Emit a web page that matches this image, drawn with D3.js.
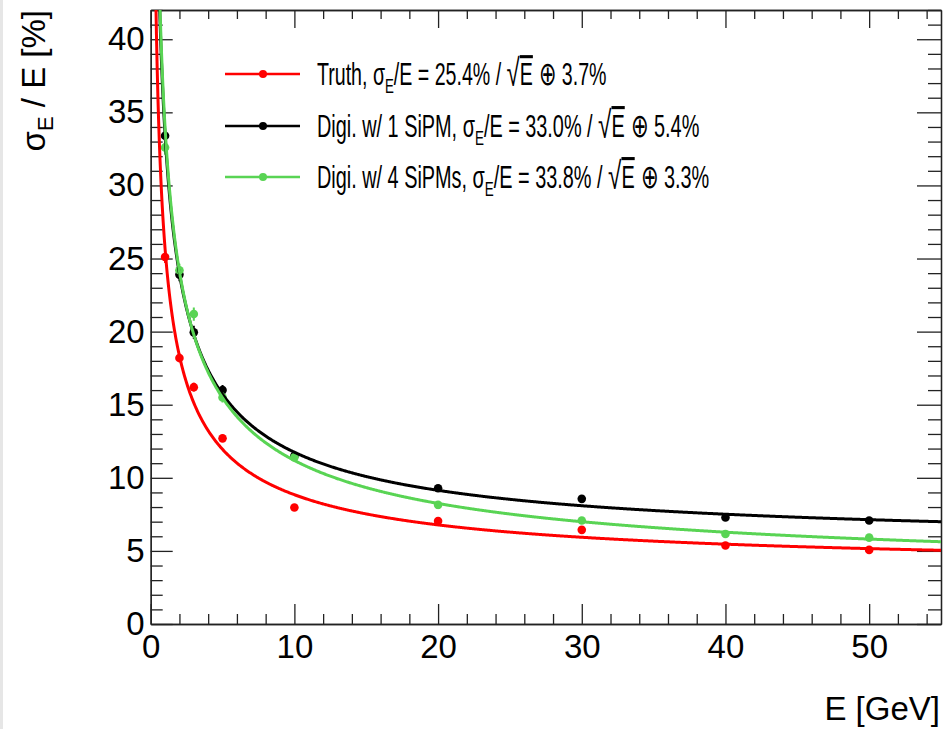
<!DOCTYPE html>
<html>
<head>
<meta charset="utf-8">
<script src="https://cdn.jsdelivr.net/npm/d3@7"></script>
<style>
  html, body { margin: 0; padding: 0; background: #fff; }
  svg { display: block; font-family: "Liberation Sans", Arial, Helvetica, sans-serif; }
</style>
</head>
<body>
<svg id="chart" width="944" height="729"></svg>
<script>
// ---- data ----
const energies = [1, 2, 3, 5, 10, 20, 30, 40, 50];
const truthRes = [25.1, 18.2, 16.2, 12.7, 7.97, 7.05, 6.44, 5.37, 5.07];
const sipm1Res = [33.4, 23.9, 19.95, 16.0, 11.5, 9.29, 8.56, 7.28, 7.08];
const sipm4Res = [32.6, 24.2, 21.2, 15.5, 11.4, 8.15, 7.08, 6.16, 5.91];
const truthErr = [0.4, 0.3, 0.3, 0.25, 0.15, 0.12, 0.1, 0.1, 0.1];
const sipm1Err = [0.5, 0.45, 0.45, 0.35, 0.2, 0.15, 0.12, 0.1, 0.1];
const sipm4Err = [0.5, 0.45, 0.45, 0.35, 0.2, 0.15, 0.12, 0.1, 0.1];
// fit parameters (stochastic %, constant %) as printed in the legend
const fitStochastic = [25.4, 33.0, 33.8];
const fitConstant = [3.7, 5.4, 3.3];
const seriesNames = ["Truth", "Digi. w/ 1 SiPM", "Digi. w/ 4 SiPMs"];
const seriesColors = ["#ff0000", "#000000", "#59d454"];
const xTicks = [0, 10, 20, 30, 40, 50];
const yTicks = [0, 5, 10, 15, 20, 25, 30, 35, 40];

const seriesValues = [truthRes, sipm1Res, sipm4Res];
const seriesErrors = [truthErr, sipm1Err, sipm4Err];

// ---- layout ----
const svg = d3.select("#chart");
const frame = { left: 150.7, right: 941, top: 10, bottom: 624 };
const x = d3.scaleLinear().domain([0, 55]).range([frame.left, frame.right]);
const y = d3.scaleLinear().domain([0, 42]).range([frame.bottom, frame.top]);

svg.append("rect").attr("x", 0).attr("y", 0).attr("width", 3).attr("height", 729).attr("fill", "#e6e6e6");

svg.append("defs").append("clipPath").attr("id", "clip")
  .append("rect").attr("x", frame.left).attr("y", frame.top)
  .attr("width", frame.right - frame.left).attr("height", frame.bottom - frame.top);

// ---- axes ----
const axisColor = "#222";
function styleAxis(g) {
  g.selectAll(".domain").attr("stroke", axisColor).attr("stroke-width", 1.3);
  g.selectAll(".tick line").attr("stroke", axisColor).attr("stroke-width", 1.3);
  g.selectAll(".tick text").attr("fill", "#000").attr("font-size", 33)
    .attr("font-family", "'Liberation Sans', Arial, sans-serif");
}
const xMinor = d3.range(0, 56, 2).filter(v => v % 10 !== 0);
const yMinor = d3.range(0, 43, 1).filter(v => v % 5 !== 0);

// bottom
svg.append("g").attr("transform", `translate(0,${frame.bottom})`)
  .call(d3.axisBottom(x).tickValues(xTicks).tickFormat(d3.format("d")).tickSizeInner(-20).tickSizeOuter(0).tickPadding(11))
  .call(styleAxis);
svg.append("g").attr("transform", `translate(0,${frame.bottom})`)
  .call(d3.axisBottom(x).tickValues(xMinor).tickFormat("").tickSizeInner(-10).tickSizeOuter(0))
  .call(styleAxis);
// top
svg.append("g").attr("transform", `translate(0,${frame.top})`)
  .call(d3.axisTop(x).tickValues(xTicks).tickFormat("").tickSizeInner(-18).tickSizeOuter(0))
  .call(styleAxis);
svg.append("g").attr("transform", `translate(0,${frame.top})`)
  .call(d3.axisTop(x).tickValues(xMinor).tickFormat("").tickSizeInner(-9).tickSizeOuter(0))
  .call(styleAxis);
// left
svg.append("g").attr("transform", `translate(${frame.left},0)`)
  .call(d3.axisLeft(y).tickValues(yTicks).tickFormat(d3.format("d")).tickSizeInner(-22).tickSizeOuter(0).tickPadding(6))
  .call(styleAxis);
svg.append("g").attr("transform", `translate(${frame.left},0)`)
  .call(d3.axisLeft(y).tickValues(yMinor).tickFormat("").tickSizeInner(-12).tickSizeOuter(0))
  .call(styleAxis);
// right
svg.append("g").attr("transform", `translate(${frame.right},0)`)
  .call(d3.axisRight(y).tickValues(yTicks).tickFormat("").tickSizeInner(-24).tickSizeOuter(0))
  .call(styleAxis);
svg.append("g").attr("transform", `translate(${frame.right},0)`)
  .call(d3.axisRight(y).tickValues(yMinor).tickFormat("").tickSizeInner(-13).tickSizeOuter(0))
  .call(styleAxis);

// ---- titles ----
svg.append("text").attr("x", 940).attr("y", 720).attr("text-anchor", "end")
  .attr("font-size", 33).text("E [GeV]");

const yTitle = svg.append("text").attr("transform", "translate(45,10) rotate(-90)")
  .attr("text-anchor", "end").attr("font-size", 33);
yTitle.append("tspan").text("σ");
yTitle.append("tspan").attr("font-size", 22).attr("dy", 8).text("E");
yTitle.append("tspan").attr("dy", -8).text(" / E [%]");

// ---- fit curves ----
const curveE = d3.range(0.3, 55.01, 0.05);
const plot = svg.append("g").attr("clip-path", "url(#clip)");
const line = d3.line().x(d => x(d[0])).y(d => y(d[1])).curve(d3.curveLinear);

seriesValues.forEach((vals, i) => {
  const col = seriesColors[i];
  plot.append("g").selectAll("line").data(energies).join("line")
    .attr("x1", d => x(d)).attr("x2", d => x(d))
    .attr("y1", (d, j) => y(vals[j] - seriesErrors[i][j]))
    .attr("y2", (d, j) => y(vals[j] + seriesErrors[i][j]))
    .attr("stroke", col).attr("stroke-width", 2);
  plot.append("g").selectAll("circle").data(energies).join("circle")
    .attr("cx", d => x(d)).attr("cy", (d, j) => y(vals[j]))
    .attr("r", 4.3).attr("fill", col);
});
seriesValues.forEach((vals, i) => {
  const a = fitStochastic[i], b = fitConstant[i];
  const pts = curveE.map(e => [e, Math.sqrt(a * a / e + b * b)]);
  plot.append("path").datum(pts).attr("d", line)
    .attr("fill", "none").attr("stroke", seriesColors[i]).attr("stroke-width", 3);
});

// ---- legend ----
const legendRows = [74, 126, 177];
const legendWidths = [290, 383, 393];
seriesNames.forEach((name, i) => {
  const g = svg.append("g");
  const ly = legendRows[i];
  g.append("line").attr("x1", 225).attr("x2", 300).attr("y1", ly).attr("y2", ly)
    .attr("stroke", seriesColors[i]).attr("stroke-width", 2.5);
  g.append("circle").attr("cx", 263).attr("cy", ly).attr("r", 4).attr("fill", seriesColors[i]);
  const t = g.append("text").attr("x", 0).attr("y", 0).attr("font-size", 31);
  t.append("tspan").text(name + ", σ");
  t.append("tspan").attr("font-size", 21).attr("dy", 8).text("E");
  t.append("tspan").attr("dy", -8).text("/E = " + fitStochastic[i].toFixed(1) + "% / ");
  t.append("tspan").attr("font-size", 38).attr("dy", 1).text("√");
  t.append("tspan").attr("dy", -1).attr("text-decoration", "overline").text("E");
  t.append("tspan").attr("font-size", 33).text(" ⊕ ");
  t.append("tspan").text(fitConstant[i].toFixed(1) + "%");
  const w = t.node().getComputedTextLength();
  const s = legendWidths[i] / w;
  t.attr("transform", `translate(317,${ly + 11}) scale(${s},1)`);
});
</script>
</body>
</html>
